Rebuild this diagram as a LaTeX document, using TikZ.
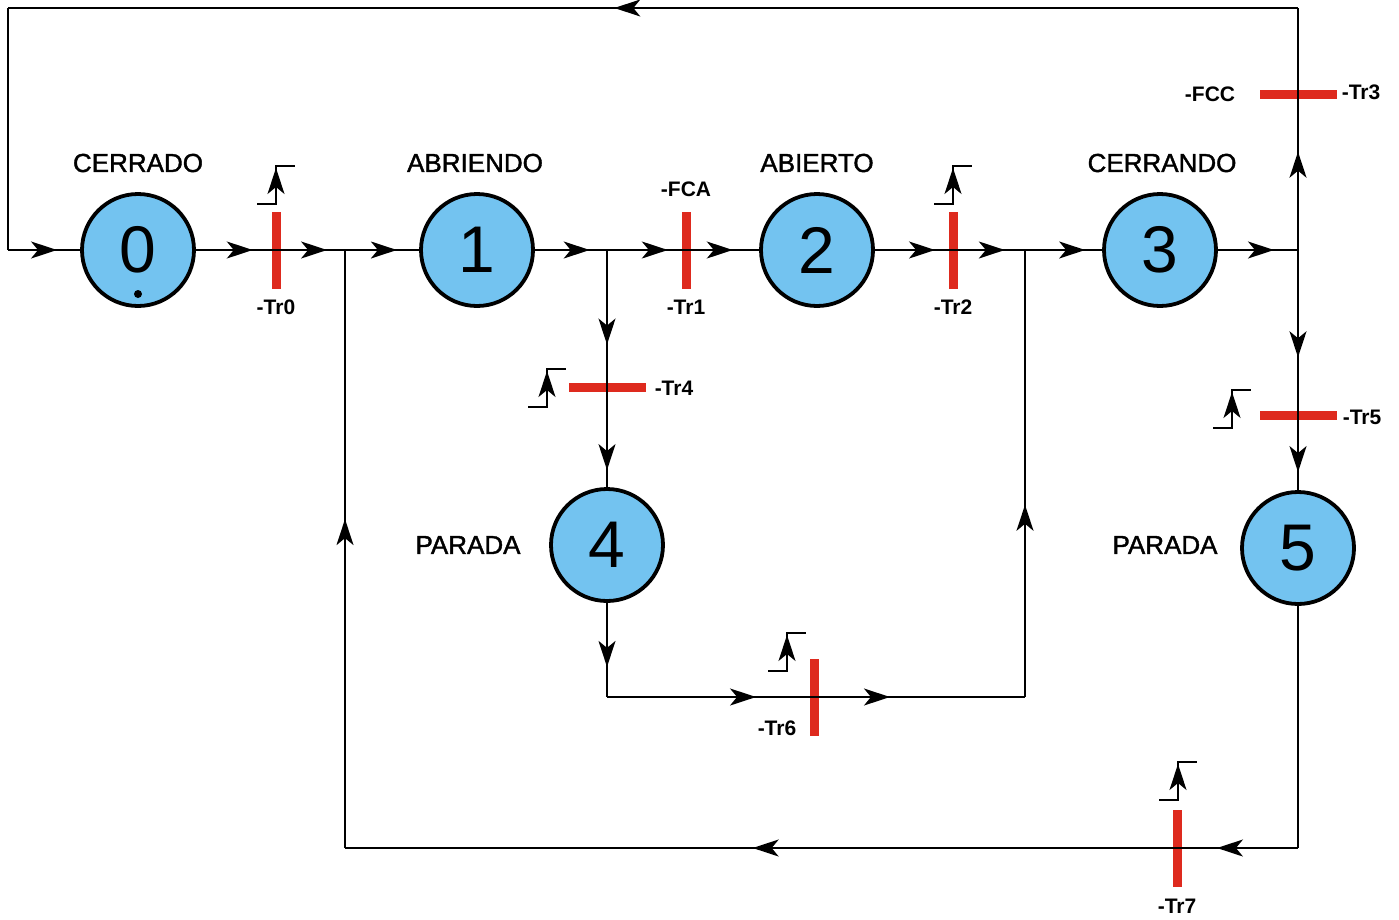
\documentclass[tikz,border=0pt]{standalone}
\usepackage{fontspec}
\setmainfont{Liberation Sans}
\newfontfamily\titlefont{Liberation Sans}[FakeBold=1.5]
\newfontfamily\tagfont{Liberation Sans Bold}
\usetikzlibrary{arrows.meta,decorations.markings}

\definecolor{stepblue}{RGB}{115,195,240}
\definecolor{barred}{RGB}{222,42,30}

\tikzset{
  tip/.style={-{Stealth[length=26pt,width=17pt,inset=7pt]}},
  flow/.style={postaction={decorate},decoration={markings,
      mark=at position #1 with {\arrow{Stealth[length=26pt,width=17pt,inset=7pt]}}}},
  flow/.default=0.72,
  stepnode/.style={circle, draw, line width=3.8pt, fill=stepblue, minimum size=112pt,
      inner sep=0pt, font=\fontsize{66}{70}\selectfont},
  vbar/.style={fill=barred, minimum width=9pt, minimum height=77pt, inner sep=0pt},
  hbar/.style={fill=barred, minimum width=77pt, minimum height=9pt, inner sep=0pt},
  title/.style={font=\titlefont\fontsize{26}{30}\selectfont},
  tlabel/.style={font=\tagfont\fontsize{21}{24}\selectfont},
  rise/.pic={
    \draw[line width=1.2pt] (-19,19) -- (0,19) -- (0,-19) -- (19,-19);
    \draw[tip, line width=1.2pt] (0,12) -- (0,-17);
  }
}

\begin{document}
\begin{tikzpicture}[x=1pt, y=-1pt, line width=1.6pt]
	\useasboundingbox (0,0) rectangle (1399,919);

	% steps
	\node[stepnode] (c0) at (138,250) {0};
	\node[stepnode] (c1) at (477,250) {1};
	\node[stepnode] (c2) at (817,250) {2};
	\node[stepnode] (c3) at (1160,250) {3};
	\node[stepnode] (c4) at (607,545) {4};
	\node[stepnode] (c5) at (1298,548) {5};
	\fill (138,294) circle (4);

	\node[title] (n0) at (138,163) {CERRADO};
	\node[title] (n1) at (475,163) {ABRIENDO};
	\node[title] (n2) at (817,163) {ABIERTO};
	\node[title] (n3) at (1162,163) {CERRANDO};
	\node[title] (n4) at (468,545) {PARADA};
	\node[title] (n5) at (1165,545) {PARADA};

	% transitions
	\node[vbar] (tr0) at (276,250) {};
	\node[vbar] (tr1) at (686,250) {};
	\node[vbar] (tr2) at (953,250) {};
	\node[hbar] (tr3) at (1298,94) {};
	\node[hbar] (tr4) at (607,387) {};
	\node[hbar] (tr5) at (1298,415) {};
	\node[vbar] (tr6) at (814,697) {};
	\node[vbar] (tr7) at (1177,848) {};

	\node[tlabel] (l0) at (276,307) {-Tr0};
	\node[tlabel] (fca) at (686,189) {-FCA};
	\node[tlabel] (l1) at (686,307) {-Tr1};
	\node[tlabel] (l2) at (953,307) {-Tr2};
	\node[tlabel] (fcc) at (1210,94) {-FCC};
	\node[tlabel] (l3) at (1361,92) {-Tr3};
	\node[tlabel] (l4) at (674,388) {-Tr4};
	\node[tlabel] (l5) at (1362,417) {-Tr5};
	\node[tlabel] (l6) at (777,728) {-Tr6};
	\node[tlabel] (l7) at (1177,906) {-Tr7};

	\pic at (276,185) {rise};
	\pic at (953,185) {rise};
	\pic at (547,388) {rise};
	\pic at (1232,409) {rise};
	\pic at (787,652) {rise};
	\pic at (1178,781) {rise};

	% junctions
	\coordinate (start) at (8,250);
	\coordinate (tl) at (8,8);
	\coordinate (tr) at (1298,8);
	\coordinate (j1) at (345,250);
	\coordinate (j2) at (607,250);
	\coordinate (j3) at (1025,250);
	\coordinate (j4) at (1298,250);
	\coordinate (b1) at (345,848);
	\coordinate (b2) at (1298,848);
	\coordinate (k1) at (607,697);
	\coordinate (k2) at (1025,697);

	% main line
	\draw[flow=0.68] (start) -- (c0);
	\draw[flow=0.71] (c0) -- (tr0.center);
	\draw[flow=0.74] (tr0.center) -- (j1);
	\draw[flow=0.7] (j1) -- (c1);
	\draw[flow=0.76] (c1) -- (j2);
	\draw[flow=0.77] (j2) -- (tr1.center);
	\draw[flow=0.64] (tr1.center) -- (c2);
	\draw[flow=0.77] (c2) -- (tr2.center);
	\draw[flow=0.72] (tr2.center) -- (j3);
	\draw[flow=0.78] (j3) -- (c3);
	\draw[flow=0.7] (c3) -- (j4);

	% loop back over the top
	\draw[flow=0.63] (j4) -- (tr3.center);
	\draw (tr3.center) -- (tr);
	\draw[flow=0.53] (tr) -- (tl);
	\draw (tl) -- (start);

	% stop while closing
	\draw[flow=0.65] (j4) -- (tr5.center);
	\draw[flow=0.76] (tr5.center) -- (c5);
	\draw (c5) -- (b2);
	\draw[flow=0.67] (b2) -- (tr7.center);
	\draw[flow=0.51] (tr7.center) -- (b1);
	\draw[flow=0.55] (b1) -- (j1);

	% stop while opening
	\draw[flow=0.69] (j2) -- (tr4.center);
	\draw[flow=0.83] (tr4.center) -- (c4);
	\draw[flow=0.68] (c4) -- (k1);
	\draw[flow=0.72] (k1) -- (tr6.center);
	\draw[flow=0.36] (tr6.center) -- (k2);
	\draw[flow=0.43] (k2) -- (j3);
\end{tikzpicture}
\end{document}
